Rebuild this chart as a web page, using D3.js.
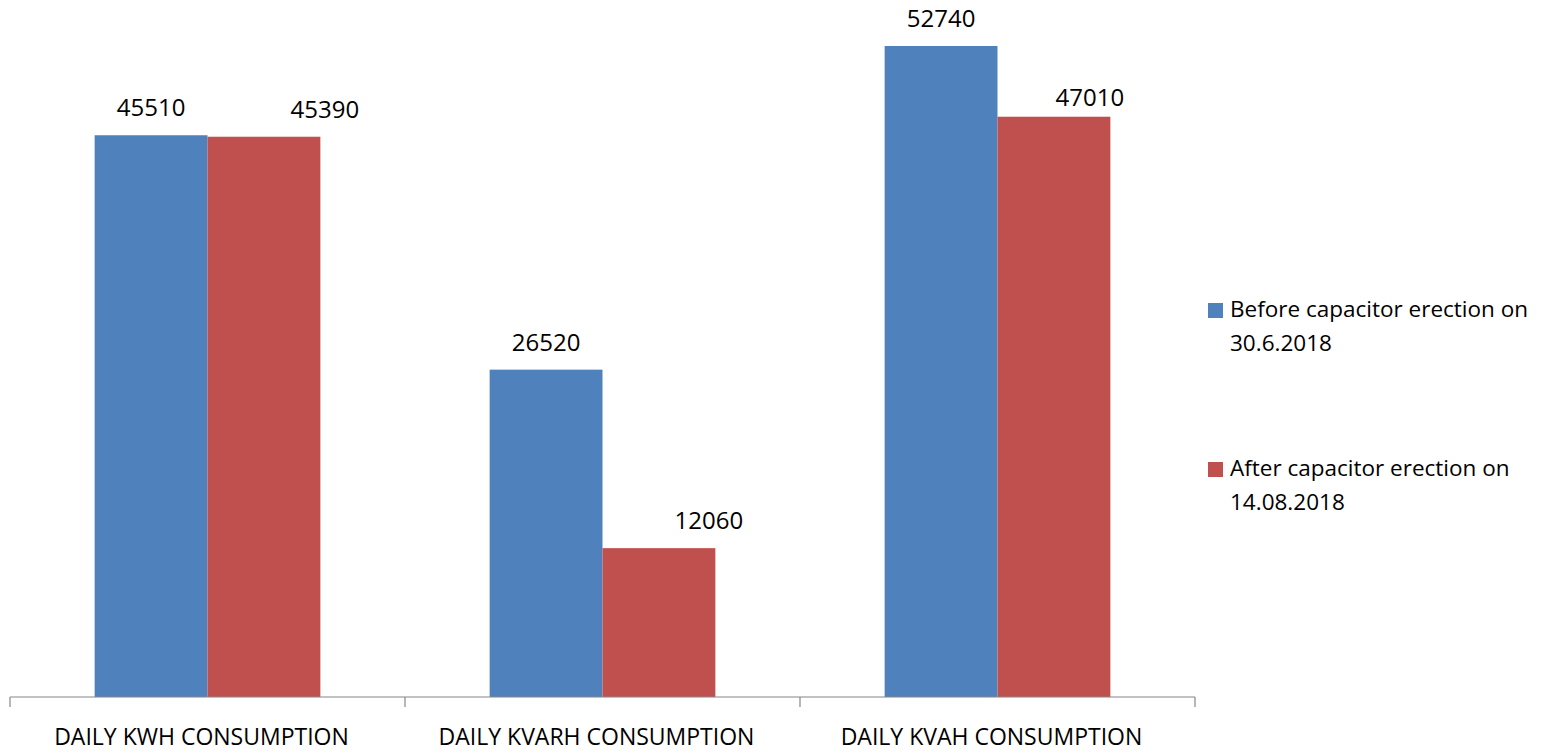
<!DOCTYPE html>
<html>
<head>
<meta charset="utf-8">
<script src="https://cdn.jsdelivr.net/npm/d3@7"></script>
<style>
  body { margin: 0; background: #fff; }
  text { font-family: "Open Sans", sans-serif; fill: #000; }
</style>
</head>
<body>
<svg id="chart" width="1558" height="753"></svg>
<script>
// data
const categories = ["DAILY KWH CONSUMPTION", "DAILY KVARH CONSUMPTION", "DAILY KVAH CONSUMPTION"];
const seriesNames = ["Before capacitor erection on 30.6.2018", "After capacitor erection on 14.08.2018"];
const legendLines = [["Before capacitor erection on", "30.6.2018"], ["After capacitor erection on", "14.08.2018"]];
const beforeValues = [45510, 26520, 52740];
const afterValues = [45390, 12060, 47010];
const colors = ["#4F81BD", "#C0504D"];

// the "after" labels were dragged by hand in the original, nudge them the same way
const labelNudge = [
  [[0, 0], [0, 0], [0, 0]],
  [[61, 0], [50, 0], [36, 8]]
];

const svg = d3.select("#chart");
const margin = { left: 10, right: 363, top: 46, bottom: 56 };
const W = 1558, H = 753;
const baseY = H - margin.bottom; // 697

const x0 = d3.scaleBand()
  .domain(categories)
  .range([margin.left, W - margin.right])
  .paddingInner(0).paddingOuter(0);

// gap width 150%: half a gap (0.75 bar) on each side of the pair
const x1 = d3.scaleBand()
  .domain([0, 1])
  .range([0, x0.bandwidth()])
  .paddingInner(0)
  .paddingOuter(0.75);

const y = d3.scaleLinear()
  .domain([0, d3.max(beforeValues.concat(afterValues))])
  .range([baseY, margin.top]);

const rows = categories.map((c, i) => ({ cat: c, i, vals: [beforeValues[i], afterValues[i]] }));

const groups = svg.selectAll("g.grp")
  .data(rows)
  .join("g")
  .attr("class", "grp")
  .attr("transform", d => `translate(${x0(d.cat)},0)`);

groups.selectAll("rect")
  .data(d => d.vals.map((v, k) => ({ v, k, i: d.i })))
  .join("rect")
  .attr("x", d => x1(d.k))
  .attr("width", x1.bandwidth())
  .attr("y", d => y(d.v))
  .attr("height", d => baseY - y(d.v))
  .attr("fill", d => colors[d.k]);

groups.selectAll("text.lbl")
  .data(d => d.vals.map((v, k) => ({ v, k, i: d.i })))
  .join("text")
  .attr("class", "lbl")
  .attr("x", d => x1(d.k) + x1.bandwidth() / 2 + labelNudge[d.k][d.i][0])
  .attr("y", d => y(d.v) - 19 + labelNudge[d.k][d.i][1])
  .attr("text-anchor", "middle")
  .attr("font-size", 24)
  .text(d => d.v);

// x axis
const xAxis = svg.append("g").attr("transform", `translate(0,${baseY})`);
xAxis.append("line")
  .attr("x1", margin.left).attr("x2", W - margin.right)
  .attr("stroke", "#868686").attr("stroke-width", 1.2);
const tickXs = categories.map(c => x0(c)).concat([x0(categories[categories.length - 1]) + x0.bandwidth()]);
xAxis.selectAll("line.tick")
  .data(tickXs)
  .join("line")
  .attr("class", "tick")
  .attr("x1", d => d).attr("x2", d => d)
  .attr("y1", 0).attr("y2", 10)
  .attr("stroke", "#868686").attr("stroke-width", 1.2);
xAxis.selectAll("text")
  .data(categories)
  .join("text")
  .attr("x", d => x0(d) + x0.bandwidth() / 2 - 6)
  .attr("y", 48)
  .attr("text-anchor", "middle")
  .attr("font-size", 23)
  .text(d => d);

// legend
const legend = svg.append("g").attr("transform", "translate(1208,0)");
const legendTop = [303, 462];
seriesNames.forEach((name, i) => {
  const g = legend.append("g").attr("transform", `translate(0,${legendTop[i]})`);
  g.append("rect").attr("width", 15).attr("height", 15).attr("fill", colors[i]);
  const t = g.append("text").attr("x", 22).attr("y", 14).attr("font-size", 22.5);
  legendLines[i].forEach((ln, j) => {
    t.append("tspan").attr("x", 22).attr("dy", j === 0 ? 0 : 34).text(ln);
  });
});
</script>
</body>
</html>
